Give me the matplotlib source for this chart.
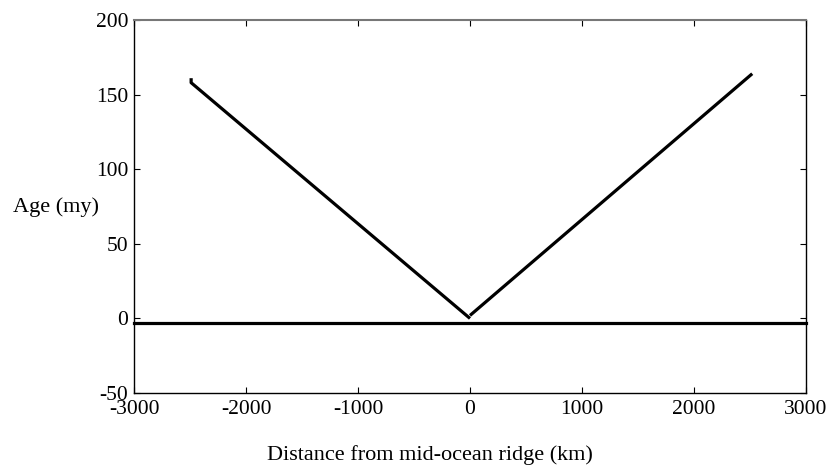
import matplotlib
matplotlib.use("Agg")
import matplotlib.pyplot as plt

# Data
left_x = [-2490, -2490, 0]
left_y = [161, 158, 0]
right_x = [0, 2520]
right_y = [2, 164]
base_x = [-3000, 3000]
base_y = [-3, -3]

xticks = [-3000, -2000, -1000, 0, 1000, 2000, 3000]
yticks = [-50, 0, 50, 100, 150, 200]

plt.rcParams['font.family'] = ['Liberation Serif', 'DejaVu Serif']

fig = plt.figure(figsize=(8.34, 4.73), dpi=100)
ax = fig.add_axes([0.1607, 0.1691, 0.8057, 0.7886])

ax.plot(left_x, left_y, color='black', lw=2.3, solid_capstyle='butt')
ax.plot(right_x, right_y, color='black', lw=2.3, solid_capstyle='butt')
ax.plot(base_x, base_y, color='black', lw=2.3, clip_on=False)

ax.set_xlim(-3000, 3000)
ax.set_ylim(-50, 200)
ax.set_xticks(xticks)
ax.set_yticks(yticks)
ax.set_xticklabels([str(v) for v in xticks])
ax.set_yticklabels([str(v) for v in yticks])
ax.tick_params(axis='both', direction='in', length=4, width=0.8, labelsize=15.5, colors='black')
ax.tick_params(axis='y', right=True, pad=4)
ax.tick_params(axis='x', top=True, pad=5)

for s in ['left', 'right', 'bottom']:
    ax.spines[s].set_color('black')
    ax.spines[s].set_linewidth(1.0)
ax.spines['top'].set_color('#777777')
ax.spines['top'].set_linewidth(1.5)

fig.text(0.5156, 0.038, 'Distance from mid-ocean ridge (km)', ha='center', va='center', fontsize=16)
fig.text(0.016, 0.5624, 'Age (my)', ha='left', va='center', fontsize=16)

fig.savefig('out.png', dpi=100)
